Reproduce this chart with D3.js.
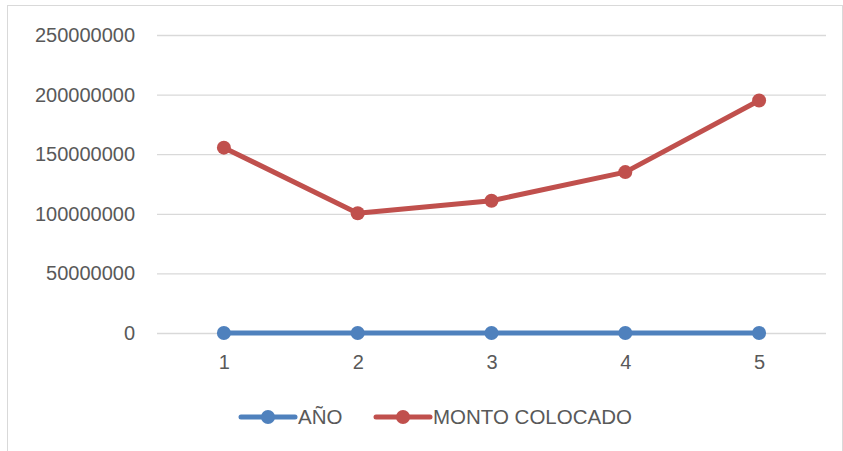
<!DOCTYPE html>
<html>
<head>
<meta charset="utf-8">
<script src="https://cdn.jsdelivr.net/npm/d3@7"></script>
<style>
  body { margin: 0; background: #fff; }
  text { font-family: "Liberation Sans", "DejaVu Sans", sans-serif; fill: #595959; }
</style>
</head>
<body>
<div id="chart"></div>
<script>
// chart data
const categories = ["1", "2", "3", "4", "5"];
const anio = [2014, 2015, 2016, 2017, 2018];
const montoColocado = [155500000, 100500000, 111000000, 135000000, 195000000];
const yTicks = [0, 50000000, 100000000, 150000000, 200000000, 250000000];
const seriesNames = ["AÑO", "MONTO COLOCADO"];
const seriesColors = ["#4F81BD", "#C0504D"];

const W = 843, H = 451;
const margin = {top: 35, right: 17, bottom: 118, left: 157};
const width = W - margin.left - margin.right;
const height = H - margin.top - margin.bottom;

const svg = d3.select("#chart").append("svg")
  .attr("width", W)
  .attr("height", H);

// outer chart border
svg.append("rect")
  .attr("x", 7.5).attr("y", 5.5)
  .attr("width", W - 8).attr("height", H)
  .attr("fill", "none")
  .attr("stroke", "#D9D9D9");

const g = svg.append("g")
  .attr("transform", `translate(${margin.left},${margin.top})`);

const x = d3.scalePoint().domain(categories).range([0, width]).padding(0.5);
const y = d3.scaleLinear().domain([0, 250000000]).range([height, 0]);

// gridlines
const yAxis = g.append("g")
  .call(d3.axisLeft(y).tickValues(yTicks).tickSize(-width).tickFormat(d3.format("d")).tickPadding(22));
yAxis.select(".domain").remove();
yAxis.selectAll(".tick line").attr("stroke", "#D9D9D9").attr("stroke-width", 1.3);
yAxis.selectAll(".tick text").style("font-size", "20px").attr("fill", "#595959");

const xAxis = g.append("g")
  .attr("transform", `translate(0,${height})`)
  .call(d3.axisBottom(x).tickSize(0).tickPadding(22));
xAxis.select(".domain").remove();
xAxis.selectAll(".tick text").style("font-size", "20px").attr("fill", "#595959");

const series = [anio, montoColocado];
const line = d3.line().x((d, i) => x(categories[i])).y(d => y(d));

series.forEach((vals, s) => {
  g.append("path")
    .datum(vals)
    .attr("fill", "none")
    .attr("stroke", seriesColors[s])
    .attr("stroke-width", 5)
    .attr("stroke-linejoin", "round")
    .attr("stroke-linecap", "round")
    .attr("d", line);
  g.selectAll(".dot" + s)
    .data(vals)
    .enter().append("circle")
    .attr("cx", (d, i) => x(categories[i]))
    .attr("cy", d => y(d))
    .attr("r", 7)
    .attr("fill", seriesColors[s]);
});

// legend
const legendX = [241, 376];
const legend = svg.append("g").attr("transform", "translate(0,417)");
seriesNames.forEach((name, s) => {
  const lg = legend.append("g").attr("transform", `translate(${legendX[s]},0)`);
  lg.append("line")
    .attr("x1", 0).attr("x2", 54)
    .attr("stroke", seriesColors[s])
    .attr("stroke-width", 5)
    .attr("stroke-linecap", "round");
  lg.append("circle").attr("cx", 27).attr("r", 7).attr("fill", seriesColors[s]);
  lg.append("text")
    .attr("x", 57).attr("dy", "0.35em")
    .style("font-size", "20.5px")
    .text(name);
});
</script>
</body>
</html>
